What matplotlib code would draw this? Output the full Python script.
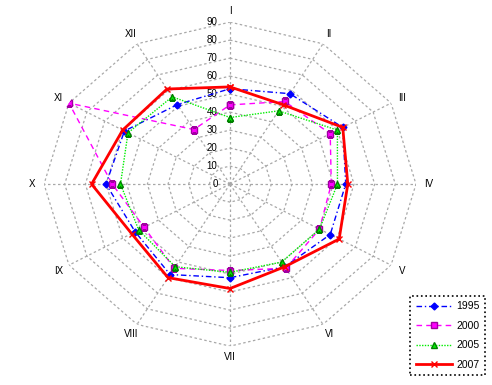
import numpy as np
import matplotlib
matplotlib.use("Agg")
import matplotlib.pyplot as plt

# months on the spokes, clockwise from the top
months = ["I", "II", "III", "IV", "V", "VI", "VII", "VIII", "IX", "X", "XI", "XII"]
rings = [0, 10, 20, 30, 40, 50, 60, 70, 80, 90]

v1995 = [53, 58, 63, 56, 56, 53, 52, 58, 53, 60, 59, 51]
v2000 = [44, 53, 56, 49, 50, 54, 48, 54, 48, 57, 90, 35]
v2005 = [37, 47, 60, 52, 50, 50, 49, 53, 51, 53, 57, 56]
v2007 = [54, 51, 63, 57, 61, 53, 58, 60, 55, 67, 60, 61]

plt.rcParams['font.family'] = ['Liberation Sans', 'DejaVu Sans']

fig = plt.figure(figsize=(4.92, 3.85), dpi=100)
ax = fig.add_axes([0.0895, 0.101, 0.756, 0.8416], projection="polar")
ax.set_theta_offset(np.pi / 2)
ax.set_theta_direction(-1)
ax.set_ylim(0, 90)

n = len(months)
theta = np.linspace(0, 2 * np.pi, n, endpoint=False)
closed = np.append(theta, theta[0])

# polygon grid instead of circles
ax.grid(False)
ax.spines['polar'].set_visible(False)
ax.set_xticks([])
ax.set_yticks([])
grid_kw = dict(color="#a8a8a8", lw=0.9, ls=(0, (2, 2)), zorder=1)
for r in rings[1:]:
    ax.plot(closed, [r] * (n + 1), **grid_kw)
for t in theta:
    ax.plot([t, t], [0, 90], **grid_kw)

for r in rings:
    ax.annotate(str(r), xy=(0, r), xytext=(-9, 0), textcoords="offset points",
                ha="right", va="center", fontsize=7)

for t, m in zip(theta, months):
    ax.text(t, 96, m, ha="center", va="center", fontsize=7, clip_on=False)


def close(v):
    return v + v[:1]


ax.plot(closed, close(v1995), color="#0000ff", lw=1, ls=(0, (4, 2, 1, 2)),
        marker="D", ms=3.5, label="1995", zorder=3)
ax.plot(closed, close(v2000), color="#ff00ff", lw=1, ls=(0, (4, 3)),
        marker="s", ms=4.5, mec="#a000a0", label="2000", zorder=3)
ax.plot(closed, close(v2005), color="#00ee00", lw=1, ls=(0, (1, 1)),
        marker="^", ms=5, mec="#008000", label="2005", zorder=3)
ax.plot(closed, close(v2007), color="#ff0000", lw=2, ls="-",
        marker="x", ms=5, mew=1, label="2007", zorder=4)

# polar axes force a circle, the original is stretched sideways
ax.set_aspect("auto")

leg = fig.legend(loc="lower right", bbox_to_anchor=(0.996, 0.013), fontsize=7.5,
                 fancybox=False, framealpha=1, edgecolor="black",
                 handlelength=3.5, borderpad=0.5, labelspacing=0.9,
                 handletextpad=0.4)
leg.get_frame().set_linestyle(":")
leg.get_frame().set_linewidth(1.2)

plt.savefig("out.png", dpi=100)
